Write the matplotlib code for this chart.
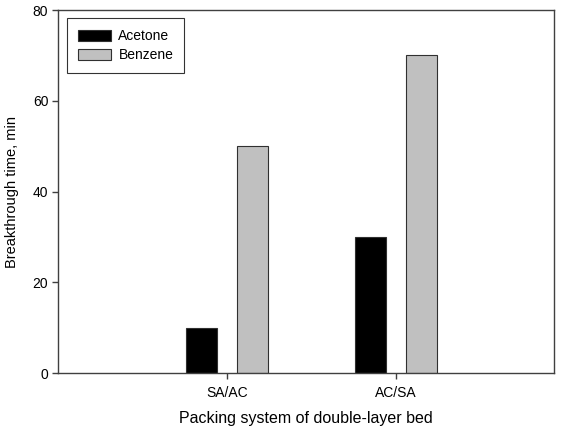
import numpy as np
import matplotlib
matplotlib.use("Agg")
import matplotlib.pyplot as plt

categories = ["SA/AC", "AC/SA"]
acetone = [10, 30]
benzene = [50, 70]

plt.rcParams["font.family"] = ["Liberation Sans", "DejaVu Sans"]

fig = plt.figure(figsize=(5.69, 4.26), dpi=100)
ax = fig.add_axes([0.102, 0.1244, 0.872, 0.852])

x = np.arange(1, len(categories) + 1)
width = 0.185
offset = 0.15
edge = "#303030"
ax.bar(x - offset, acetone, width, color="black", edgecolor=edge, linewidth=0.8, label="Acetone")
ax.bar(x + offset, benzene, width, color="#c0c0c0", edgecolor=edge, linewidth=0.8, label="Benzene")

ax.set_xlim(0, 2.935)
ax.set_ylim(0, 80)
ax.set_xticks(x)
ax.set_xticklabels(categories)
ax.set_yticks([0, 20, 40, 60, 80])

for s in ax.spines.values():
    s.set_color("#404040")
    s.set_linewidth(1.0)
ax.tick_params(axis="both", labelsize=10, color="#404040", length=4, width=1.0, direction="out")
ax.tick_params(axis="x", pad=5)
ax.tick_params(axis="y", pad=3)

# x label sits at the very bottom edge, as in the source figure
ax.set_xlabel("Packing system of double-layer bed", fontsize=11.5, labelpad=8)
ax.set_ylabel("Breakthrough time, min", fontsize=10.5, labelpad=10)

leg = ax.legend(loc="upper left", fontsize=10, frameon=True, fancybox=False,
                edgecolor="black", borderpad=0.8, borderaxespad=0.0,
                handlelength=2.4, handleheight=0.8, handletextpad=0.5,
                labelspacing=0.35,
                bbox_to_anchor=(9 / 496, 1 - 8 / 363))
leg.get_frame().set_linewidth(0.8)

fig.savefig("out.png", dpi=100)
